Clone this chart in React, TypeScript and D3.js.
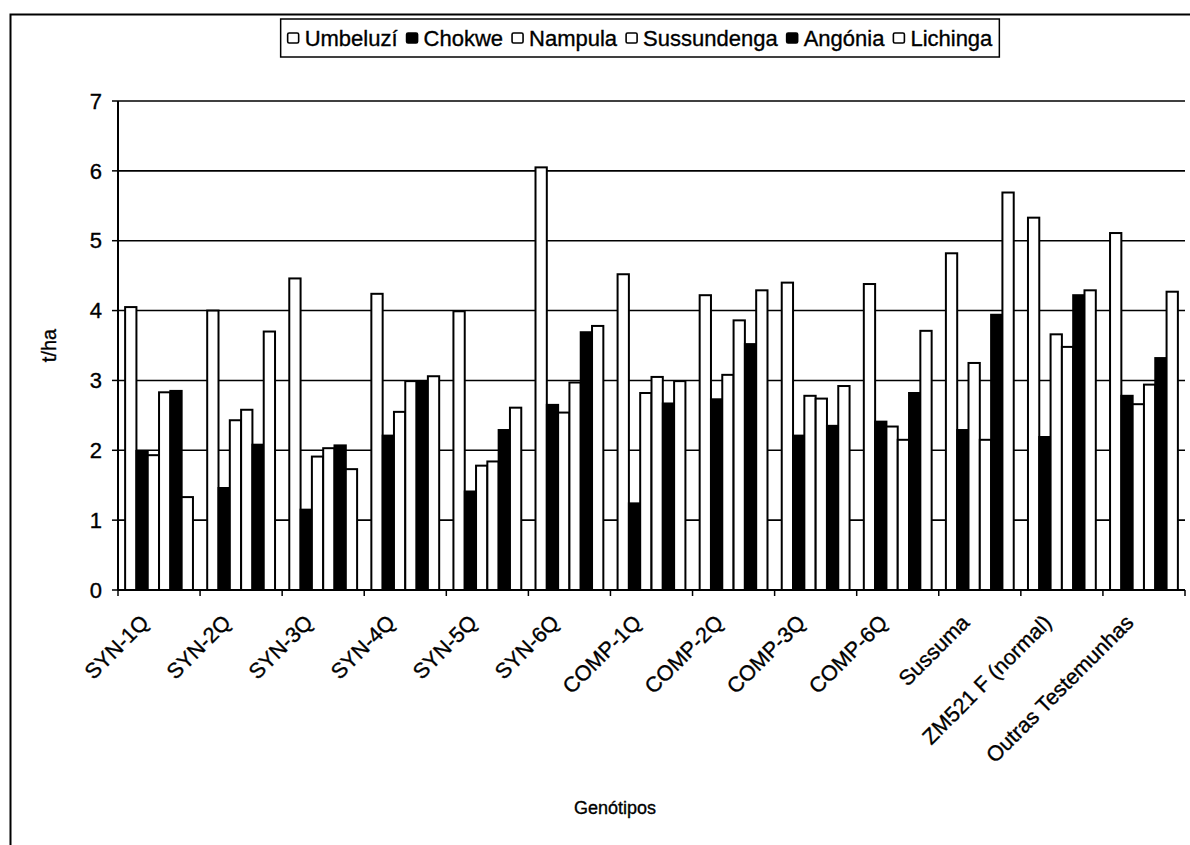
import React from "react";
import * as d3 from "d3";

const categories = [
  "SYN-1Q", "SYN-2Q", "SYN-3Q", "SYN-4Q", "SYN-5Q", "SYN-6Q",
  "COMP-1Q", "COMP-2Q", "COMP-3Q", "COMP-6Q", "Sussuma",
  "ZM521 F (normal)", "Outras Testemunhas",
];
const seriesNames = ["Umbeluzí", "Chokwe", "Nampula", "Sussundenga", "Angónia", "Lichinga"];
const seriesFilled = [false, true, false, false, true, false];
const umbeluzi = [4.05, 4.0, 4.46, 4.24, 3.99, 6.05, 4.52, 4.22, 4.4, 4.38, 4.82, 5.33, 5.11];
const chokwe = [1.99, 1.46, 1.15, 2.21, 1.41, 2.65, 1.24, 2.73, 2.21, 2.41, 2.29, 2.19, 2.78];
const nampula = [1.93, 2.43, 1.91, 2.55, 1.78, 2.54, 2.82, 3.08, 2.78, 2.34, 3.25, 3.66, 2.66];
const sussundenga = [2.83, 2.58, 2.03, 2.99, 1.84, 2.97, 3.05, 3.86, 2.74, 2.15, 2.15, 3.48, 2.94];
const angonia = [2.85, 2.08, 2.07, 2.98, 2.29, 3.69, 2.67, 3.52, 2.35, 2.82, 3.94, 4.22, 3.32];
const lichinga = [1.33, 3.7, 1.73, 3.06, 2.61, 3.78, 2.99, 4.29, 2.92, 3.71, 5.69, 4.29, 4.27];
const seriesValues = [umbeluzi, chokwe, nampula, sussundenga, angonia, lichinga];
const yTicks = [0, 1, 2, 3, 4, 5, 6, 7];
const yTitle = "t/ha";
const xTitle = "Genótipos";

const FONT = "'Liberation Sans', Arial, sans-serif";

function measure(text: string, size: number): number {
  if (typeof document === "undefined") return text.length * size * 0.55;
  const c = document.createElement("canvas");
  const ctx = c.getContext("2d");
  if (!ctx) return text.length * size * 0.55;
  ctx.font = `${size}px ${FONT}`;
  return ctx.measureText(text).width;
}

export default function App() {
  const W = 1190, H = 845;
  const left = 118, right = 1185, top = 101, bottom = 590;
  const x = d3.scaleBand<string>().domain(categories).range([left, right]).paddingInner(0).paddingOuter(0);
  const xs = d3.scaleBand<string>().domain(seriesNames).range([0, x.bandwidth()]).paddingInner(0).paddingOuter(0.63);
  const y = d3.scaleLinear().domain([0, 7]).range([bottom, top]);

  const textStroke = { stroke: "#000", strokeWidth: 0.35 };

  // legend layout
  const legFont = 22;
  const sw = 11;
  const items = seriesNames.map((n) => ({ n, w: measure(n, legFont) }));
  const gapSwText = 6, gapItem = 9;
  const totalW = items.reduce((s, it) => s + sw + gapSwText + it.w, 0) + gapItem * (items.length - 1);
  const legCx = 640;
  let cur = legCx - totalW / 2;
  const legItems = items.map((it, i) => {
    const o = { ...it, x: cur, filled: seriesFilled[i] };
    cur += sw + gapSwText + it.w + gapItem;
    return o;
  });
  const legY = 38;

  return (
    <div style={{ position: "absolute", left: 0, top: 0 }}>
      <svg width={W} height={H} style={{ display: "block", background: "#fff" }} fontFamily={FONT}>
        <rect x={0} y={0} width={W} height={H} fill="#fff" />
        {/* outer frame */}
        <path d={`M10.5,${H} V14.5 H${W}`} fill="none" stroke="#000" strokeWidth={2} />

        {/* legend */}
        <rect
          x={legCx - totalW / 2 - 7}
          y={19}
          width={totalW + 14}
          height={38}
          fill="#fff"
          stroke="#000"
          strokeWidth={1.5}
        />
        {legItems.map((it) => (
          <g key={it.n}>
            <rect
              x={it.x}
              y={legY - 5}
              width={sw}
              height={10}
              rx={1.5}
              fill={it.filled ? "#000" : "#fff"}
              stroke="#000"
              strokeWidth={1.6}
            />
            <text x={it.x + sw + gapSwText} y={legY} dy="0.36em" fontSize={legFont} fill="#000" {...textStroke}>
              {it.n}
            </text>
          </g>
        ))}

        {/* gridlines */}
        {yTicks.filter((t) => t > 0).map((t) => (
          <line key={t} x1={left} x2={right} y1={y(t)} y2={y(t)} stroke="#000" strokeWidth={1.6} />
        ))}

        {/* bars */}
        {categories.map((c, ci) => (
          <g key={c} transform={`translate(${x(c)},0)`}>
            {seriesNames.map((s, si) => {
              const v = seriesValues[si][ci];
              return (
                <rect
                  key={s}
                  x={xs(s)}
                  y={y(v)}
                  width={xs.bandwidth()}
                  height={y(0) - y(v)}
                  fill={seriesFilled[si] ? "#000" : "#fff"}
                  stroke="#000"
                  strokeWidth={2}
                />
              );
            })}
          </g>
        ))}

        {/* axes */}
        <line x1={left} x2={left} y1={top} y2={bottom} stroke="#000" strokeWidth={2} />
        <line x1={left} x2={right} y1={bottom} y2={bottom} stroke="#000" strokeWidth={2} />
        {yTicks.map((t) => (
          <g key={t}>
            <line x1={left - 6} x2={left} y1={y(t)} y2={y(t)} stroke="#000" strokeWidth={1.5} />
            <text x={left - 16} y={y(t)} dy="0.35em" textAnchor="end" fontSize={22} fill="#000" {...textStroke}>
              {t}
            </text>
          </g>
        ))}
        {[...categories.map((c) => x(c) as number), right].map((px, i) => (
          <line key={i} x1={px} x2={px} y1={bottom} y2={bottom + 6} stroke="#000" strokeWidth={1.5} />
        ))}
        {categories.map((c) => {
          const cx = (x(c) as number) + x.bandwidth() / 2 - 9;
          return (
            <text
              key={c}
              transform={`translate(${cx},624) rotate(-45)`}
              textAnchor="end"
              fontSize={21.5}
              fill="#000"
              {...textStroke}
            >
              {c}
            </text>
          );
        })}

        {/* axis titles */}
        <text transform={`translate(56,${(top + bottom) / 2}) rotate(-90)`} textAnchor="middle" fontSize={20} fill="#000" {...textStroke}>
          {yTitle}
        </text>
        <text x={615} y={814} textAnchor="middle" fontSize={18} fill="#000" {...textStroke}>
          {xTitle}
        </text>
      </svg>
    </div>
  );
}
